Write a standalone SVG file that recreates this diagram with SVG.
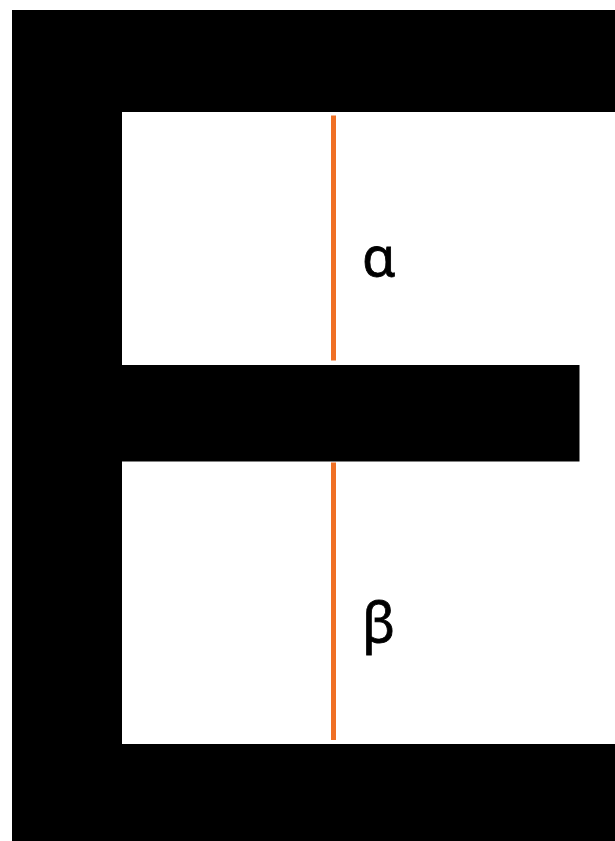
<svg xmlns="http://www.w3.org/2000/svg" width="615" height="841" viewBox="0 0 615 841">
<style>
.bar{fill:#000}
.dim{stroke:#f07024;stroke-width:5;fill:none}
.lbl{font-family:"Noto Sans",sans-serif;font-size:54px;fill:#000;stroke:#000;stroke-width:0.8}
</style>
<rect width="615" height="841" fill="#fff"/>
<g id="frame">
<path class="bar" d="M12 10H615V112H122V365H579.5V461.5H122V744H615V841H12Z"/>
</g>
<g id="connectors">
<line class="dim" x1="333.5" y1="115.5" x2="333.5" y2="360.5"/>
<line class="dim" x1="333.5" y1="462.5" x2="333.5" y2="740"/>
</g>
<g id="alpha"><text class="lbl" x="362" y="276">α</text></g>
<g id="beta"><text class="lbl" x="362" y="642">β</text></g>
</svg>
